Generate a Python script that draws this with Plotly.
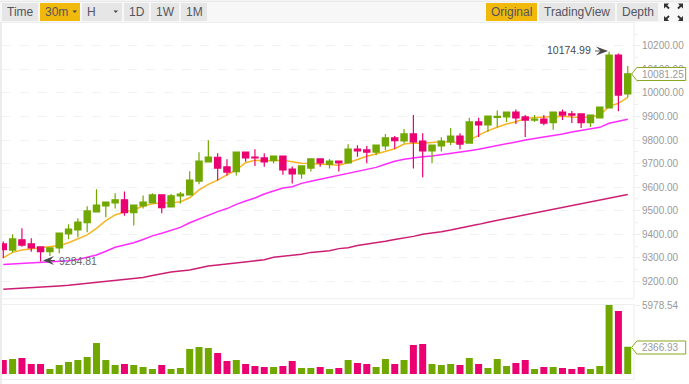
import plotly.graph_objects as go

W, H = 689, 384

# ---------- data ----------
opens = [9359,9333,9376,9359,9346,9326,9342,9401,9418,9449,9495,9520,9533,9546,9492,9520,9533,9567,9516,9563,9567,9626,9707,9727,9686,
         9666,9749,9728,9724,9712,9732,9677,9656,9681,9720,9698,9711,9703,9762,9758,9749,9775,9809,9796,9826,9796,9754,9775,9792,
         9817,9787,9877,9864,9896,9898,9919,9898,9885,9889,9874,9919,9911,9911,9874,9894,9936,10161,9996]
closes = [9335,9380,9354,9342,9326,9342,9405,9422,9452,9499,9524,9537,9546,9492,9524,9537,9567,9513,9563,9571,9630,9711,9728,9681,9664,
          9749,9724,9724,9707,9732,9673,9656,9690,9720,9703,9711,9703,9762,9754,9749,9779,9809,9797,9826,9792,9754,9779,9796,9817,
          9783,9877,9864,9902,9901,9919,9894,9885,9889,9872,9919,9906,9906,9874,9906,9940,10161,9991,10081.25]
highs = [9369,9400,9425,9383,9346,9342,9405,9442,9468,9519,9591,9537,9574,9582,9524,9565,9574,9567,9571,9579,9667,9748,9799,9744,9718,
         9749,9749,9761,9744,9732,9732,9688,9690,9720,9720,9720,9711,9782,9778,9775,9779,9826,9817,9847,9906,9829,9779,9812,9851,
         9829,9895,9895,9902,9925,9919,9930,9906,9906,9906,9919,9930,9923,9911,9906,9940,10174.99,10168,10114]
lows = [9298,9323,9347,9326,9284.81,9308,9319,9379,9387,9408,9495,9472,9509,9479,9437,9509,9533,9489,9516,9531,9567,9612,9707,9628,9649,
        9649,9708,9690,9687,9701,9653,9616,9636,9666,9687,9679,9666,9703,9729,9701,9735,9758,9762,9786,9679,9642,9701,9751,9779,
        9761,9787,9813,9834,9854,9877,9868,9813,9877,9863,9844,9885,9872,9851,9855,9894,9936,9922,9981]
ma_fast = [9301,9323,9333,9337,9343,9347,9352,9364,9379,9397,9425,9458,9482,9495,9503,9520,9529,9534,9533,9538,9555,9588,9612,9630,9652,
           9673,9704,9714,9712,9712,9714,9708,9701,9700,9698,9697,9693,9704,9718,9731,9741,9752,9763,9783,9787,9786,9790,9793,9793,
           9786,9800,9821,9840,9854,9868,9878,9891,9896,9898,9899,9901,9898,9896,9898,9906,9943,9956,9981]
ma_mid = [9272,9274,9275,9277,9279,9281,9284,9288,9293,9303,9312,9328,9345,9354,9364,9378,9393,9404,9415,9429,9449,9465,9482,9496,9509,
          9527,9541,9554,9571,9584,9596,9602,9616,9625,9633,9642,9649,9659,9666,9673,9684,9697,9710,9718,9724,9729,9732,9737,9742,
          9749,9755,9761,9768,9775,9782,9792,9800,9806,9812,9819,9826,9834,9841,9848,9854,9871,9879,9888]
ma_slow = [9166,9168,9169,9172,9175,9178,9180,9183,9187,9192,9196,9199,9203,9207,9210,9216,9225,9234,9240,9244,9248,9257,9265,9269,9274,
           9277,9284,9288,9292,9302,9306,9310,9315,9323,9327,9330,9339,9343,9352,9357,9364,9370,9378,9383,9391,9400,9404,9411,9418,
           9425,9435,9442,9451,9459,9466,9475,9482,9489,9497,9506,9514,9523,9528,9537,9545,9552,9561,9569]
volumes = [1213,1299,1386,866,866,433,779,1039,1213,1472,2685,1213,779,866,779,606,433,779,433,520,2165,2338,2252,1819,1126,1213,866,693,606,606,693,1126,520,520,606,433,520,
           1213,953,866,606,1299,866,1213,2512,2598,866,779,866,779,1386,866,520,1299,693,953,1213,433,606,606,520,433,606,433,693,5978.54,5456,2366.93]
price_ticks = [9200,9300,9400,9500,9600,9700,9800,9900,10000,10100,10200]
minor_ticks = [9150,9250,9350,9450,9550,9650,9750,9850,9950,10050,10150,10250]
left_buttons = [("Time",2,38,False),("30m",40,80,True),("H",82,122,False),("1D",124,149,False),("1W",151,179,False),("1M",181,207,False)]
right_buttons = [("Original",486,537,True),("TradingView",539,615,False),("Depth",617,658,False)]
last_price = 10081.25
last_volume = 2366.93
high_label = "10174.99"
low_label = "9284.81"

# ---------- style ----------
GREEN, RED = "#70a800", "#ea0070"
YELLOW, BTN, TXT, AXT = "#f0b90b", "#e6e6e6", "#555560", "#9a9a9a"
FONT = "Liberation Sans, Arial, sans-serif"
index = list(range(len(closes)))
bar_colors = [GREEN if c >= o else RED for o, c in zip(opens, closes)]

def X(p): return p / W
def Y(p): return 1 - p / H
def path(points, close=True):
    s = "M" + " L".join(f"{X(a):.5f},{Y(b):.5f}" for a, b in points)
    return s + (" Z" if close else "")

PX_PER_PRICE = 0.2355
TOP_PX, BOT_PX = 23, 293
price_range = [9900 - (BOT_PX - 116.5) / PX_PER_PRICE, 9900 + (116.5 - TOP_PX) / PX_PER_PRICE]
PER = 9.32
x_range = [(2 - 3.3) / PER, (634 - 3.3) / PER]

fig = go.Figure()
for vals, col, w in [(ma_slow, "#cc1f73", 1.5), (ma_mid, "#ff2cff", 1.5), (ma_fast, "#f7b522", 1.5)]:
    fig.add_trace(go.Scatter(x=index, y=vals, mode="lines", line=dict(color=col, width=w), xaxis="x", yaxis="y", hoverinfo="skip"))
fig.add_trace(go.Candlestick(
    x=index, open=opens, high=highs, low=lows, close=closes, xaxis="x3", yaxis="y3",
    increasing=dict(line=dict(color=GREEN, width=1.2), fillcolor=GREEN),
    decreasing=dict(line=dict(color=RED, width=1.2), fillcolor=RED),
    whiskerwidth=0))
fig.add_trace(go.Bar(x=index, y=volumes, marker=dict(color=bar_colors, line=dict(width=0)), xaxis="x2", yaxis="y2", width=0.75))

shapes, ann = [], []
def rect(x0, y0, x1, y1, fill, layer="below"):
    shapes.append(dict(type="rect", xref="paper", yref="paper", x0=X(x0), x1=X(x1), y0=Y(y0), y1=Y(y1),
                       fillcolor=fill, line=dict(width=0), layer=layer))
def poly(points, fill=None, line=None, lw=1, close=True, layer="above"):
    shapes.append(dict(type="path", xref="paper", yref="paper", path=path(points, close), layer=layer,
                       fillcolor=fill if fill else "rgba(0,0,0,0)", line=dict(color=line if line else "rgba(0,0,0,0)", width=lw)))
def text(x, y, s, color=TXT, size=12, anchor="center"):
    ann.append(dict(xref="paper", yref="paper", x=X(x), y=Y(y), text=s, showarrow=False, xanchor=anchor, yanchor="middle",
                    font=dict(family=FONT, size=size, color=color), borderpad=0, borderwidth=0))

# frame / toolbar
rect(0, 2, 689, 22.5, "#f7f7f7")
rect(0, 0.5, 689, 2, "#e9e9e9")
rect(0, 22, 634, 23, "#eeeeee")
rect(0, 22, 2, 384, "#ececec")
rect(633.5, 22, 634.5, 298.5, "#eeeeee")
rect(633.5, 304, 634.5, 379.5, "#eeeeee")
rect(2, 298.3, 634, 299.3, "#eeeeee")
rect(2, 304, 634, 305, "#eeeeee")
rect(2, 379, 634, 380, "#eeeeee")
for label, a, b, on in left_buttons + right_buttons:
    rect(a, 3, b, 21, YELLOW if on else BTN)
for label, a, b, on in left_buttons:
    off = {"30m": -4, "H": -11}.get(label, 0)
    text((a + b) / 2 + off, 12, label, size=12)
for label, a, b, on in right_buttons:
    text((a + b) / 2, 12, label, size=12)
poly([(72.5, 10.5), (77, 10.5), (74.75, 13)], fill="#444444", layer="above")
poly([(113.5, 10.5), (118, 10.5), (115.75, 13)], fill="#444444", layer="above")
# fullscreen icon
for sx, sy, cx, cy in [(-1, -1, 668.5, 8), (1, -1, 678.5, 8), (-1, 1, 668.5, 16.5), (1, 1, 678.5, 16.5)]:
    poly([(cx + sx*4.5, cy + sy*4.5), (cx + sx*4.5, cy - sy*0.5), (cx + sx*2.6, cy + sy*1.2), (cx + sx*0.2, cy - sy*1.2),
          (cx - sx*1.2, cy + sy*0.2), (cx + sx*1.2, cy + sy*2.6), (cx - sx*0.5, cy + sy*4.5)], fill="#333333")

# high / low marks
text(590.5, 50.5, high_label, color="#4a4a4a", size=10.5, anchor="right")
shapes.append(dict(type="line", xref="paper", yref="paper", x0=X(595), x1=X(604), y0=Y(51), y1=Y(51), line=dict(color="#555", width=1), layer="above"))
poly([(608, 51), (596, 46.5), (600.5, 51), (596, 55.5)], fill="#4a4a4a")
text(59, 260.5, low_label, color="#666666", size=10.5, anchor="left")
shapes.append(dict(type="line", xref="paper", yref="paper", x0=X(46), x1=X(55), y0=Y(260.5), y1=Y(260.5), line=dict(color="#555", width=1), layer="above"))
poly([(43, 260.5), (54, 256), (50, 260.5), (54, 265)], fill="#4a4a4a")

# last value tags
for val_y, label in [(74, f"{last_price:.2f}"), (347.5, f"{last_volume:.2f}")]:
    poly([(631.7, val_y), (636.8, val_y - 6.5), (685.7, val_y - 6.5), (685.7, val_y + 6.5), (636.8, val_y + 6.5)],
         fill="#ffffff", line="#8aa81e", lw=1)
    text(642, val_y, label, color=AXT, size=10, anchor="left")

axis_common = dict(showline=False, zeroline=False)
fig.update_layout(
    width=W, height=H, margin=dict(l=0, r=0, t=0, b=0, autoexpand=False),
    paper_bgcolor="#ffffff", plot_bgcolor="rgba(0,0,0,0)", showlegend=False, hovermode=False,
    font=dict(family=FONT), shapes=shapes, annotations=ann, bargap=0.25, boxgap=0.33, boxgroupgap=0.0,
    xaxis=dict(domain=[X(2), X(634)], range=x_range, visible=False, anchor="y", rangeslider=dict(visible=False), **axis_common),
    xaxis3=dict(domain=[X(2), X(634)], range=x_range, visible=False, anchor="y3", overlaying="x", rangeslider=dict(visible=False), **axis_common),
    xaxis2=dict(domain=[X(2), X(634)], range=x_range, visible=False, anchor="y2", **axis_common),
    yaxis=dict(domain=[Y(BOT_PX), Y(TOP_PX)], range=price_range, side="right", anchor="x", tickvals=price_ticks,
               tickformat=".2f", showgrid=True, gridcolor="#f2f2f2", griddash="dash", gridwidth=1,
               ticks="outside", ticklen=5, tickcolor="#eeeeee", tickfont=dict(family=FONT, size=10, color=AXT),
               minor=dict(tickvals=minor_ticks, ticks="outside", ticklen=3, tickcolor="#eeeeee"), **axis_common),
    yaxis3=dict(domain=[Y(BOT_PX), Y(TOP_PX)], range=price_range, side="right", anchor="x3", overlaying="y", visible=False, **axis_common),
    yaxis2=dict(domain=[Y(374), Y(304.3)], range=[0, 5978.54 * 69.7 / 69], side="right", anchor="x2",
                tickvals=[5978.54], tickformat=".2f", showgrid=False, ticks="outside", ticklen=5, tickcolor="#eeeeee",
                tickfont=dict(family=FONT, size=10, color=AXT), **axis_common),
)
fig.write_html("out.html", config=dict(displayModeBar=False), post_script="document.body.style.margin='0';")
